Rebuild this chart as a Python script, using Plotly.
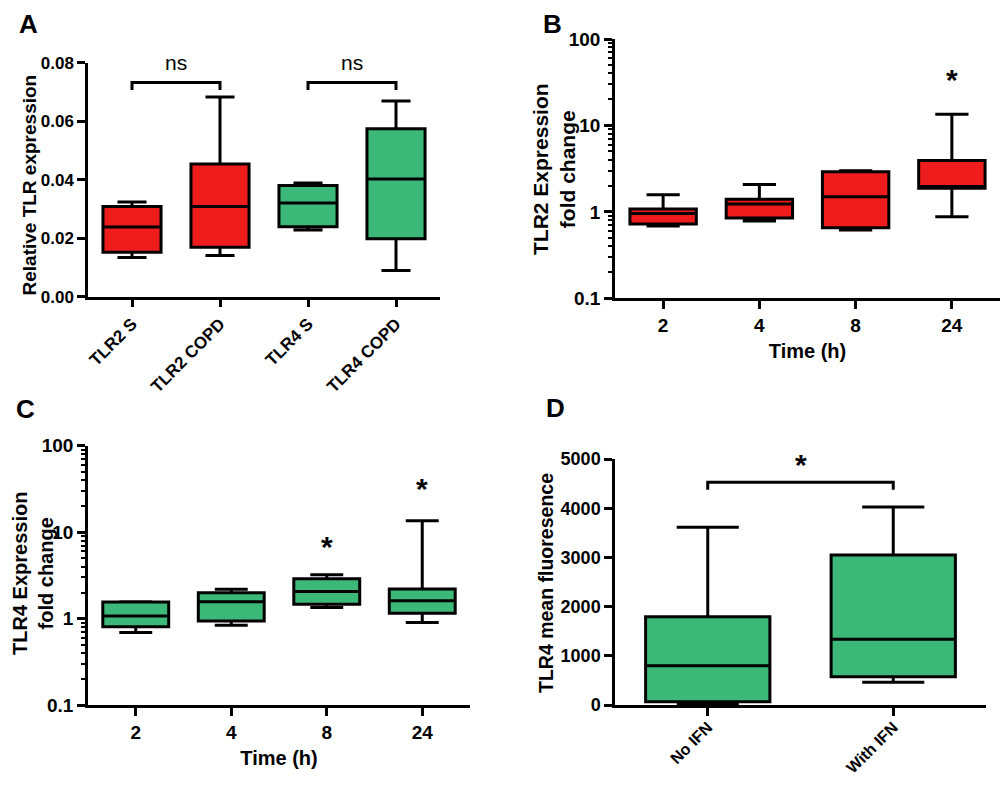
import math
import plotly.graph_objects as go

# ---------------- data ----------------
# Panel A
a_cats = ["TLR2 S", "TLR2 COPD", "TLR4 S", "TLR4 COPD"]
a_min = [0.0134, 0.0141, 0.0228, 0.0090]
a_q1 = [0.0152, 0.0169, 0.0239, 0.0198]
a_med = [0.0238, 0.0308, 0.0320, 0.0402]
a_q3 = [0.0308, 0.0454, 0.0380, 0.0574]
a_max = [0.0324, 0.0683, 0.0389, 0.0669]
a_colors = ["red", "red", "green", "green"]
a_brackets = [(0, 1, 0.0732, "ns"), (2, 3, 0.0732, "ns")]

# Panel B (TLR2 fold change)
time_cats = ["2", "4", "8", "24"]
b_min = [0.687, 0.785, 0.618, 0.88]
b_q1 = [0.724, 0.849, 0.657, 1.87]
b_med = [0.955, 1.23, 1.50, 1.97]
b_q3 = [1.08, 1.40, 2.92, 3.92]
b_max = [1.58, 2.08, 3.00, 13.5]
b_stars = [(3, 33.6)]

# Panel C (TLR4 fold change)
c_min = [0.69, 0.835, 1.34, 0.90]
c_q1 = [0.805, 0.94, 1.46, 1.15]
c_med = [1.07, 1.57, 2.05, 1.61]
c_q3 = [1.55, 1.99, 2.89, 2.20]
c_max = [1.56, 2.18, 3.22, 13.5]
c_stars = [(2, 6.8), (3, 31.8)]

# Panel D
d_cats = ["No IFN", "With IFN"]
d_min = [20, 461]
d_q1 = [68, 576]
d_med = [800, 1335]
d_q3 = [1795, 3049]
d_max = [3611, 4024]
d_brackets = [(0, 1, 4526, "*")]

log_major = [0.1, 1, 10, 100]
log_major_text = ["0.1", "1", "10", "100"]
log_minor = [m * d for d in (0.1, 1, 10) for m in range(2, 10)]

RED = "#EE1C1C"
GREEN = "#3CB878"
COL = {"red": RED, "green": GREEN}
FONT = "Liberation Sans, Arial, sans-serif"

# page has an 8px body margin: figure occupies the page from (8, 8)
OFF = 8
W, H = 1008 - 2 * OFF, 786 - 2 * OFF


def fx(px):
    return (px - OFF) / W


def fy(py):
    return 1 - (py - OFF) / H


fig = go.Figure()


def add_boxes(xs, mins, q1s, meds, q3s, maxs, colors, xa, ya, width):
    for i in range(len(xs)):
        fig.add_trace(go.Box(
            x=[xs[i]], q1=[q1s[i]], median=[meds[i]], q3=[q3s[i]],
            lowerfence=[mins[i]], upperfence=[maxs[i]],
            fillcolor=colors[i], line=dict(color="black", width=3),
            width=width, whiskerwidth=0.5, boxpoints=False,
            xaxis=xa, yaxis=ya, showlegend=False, hoverinfo="skip"))


add_boxes([0, 1, 2, 3], a_min, a_q1, a_med, a_q3, a_max,
          [COL[c] for c in a_colors], "x", "y", 0.66)
add_boxes([0, 1, 2, 3], b_min, b_q1, b_med, b_q3, b_max,
          [RED] * 4, "x2", "y2", 0.69)
add_boxes([0, 1, 2, 3], c_min, c_q1, c_med, c_q3, c_max,
          [GREEN] * 4, "x3", "y3", 0.69)
add_boxes([0, 1], d_min, d_q1, d_med, d_q3, d_max,
          [GREEN] * 2, "x4", "y4", 0.67)


def tf(size):
    return dict(family=FONT, size=size, color="black", weight="bold")


axis_common = dict(showline=True, linecolor="black", linewidth=2.5,
                   ticks="outside", ticklen=8, tickwidth=2.5, tickcolor="black",
                   showgrid=False, zeroline=False, automargin=False,
                   tickfont=tf(17))

minor_log = dict(ticks="outside", ticklen=4, tickwidth=1.5, tickcolor="black",
                 tickmode="array", tickvals=log_minor, showgrid=False)

fig.update_layout(
    width=W, height=H, margin=dict(l=0, r=0, t=0, b=0),
    paper_bgcolor="white", plot_bgcolor="white",
    xaxis=dict(axis_common, domain=[fx(88), fx(440)], range=[-0.5, 3.5],
               tickvals=[0, 1, 2, 3], ticktext=a_cats, tickangle=-45,
               anchor="y", tickfont=tf(17)),
    yaxis=dict(axis_common, domain=[fy(296.7), fy(62.7)], range=[0, 0.08],
               tickvals=[0, 0.02, 0.04, 0.06, 0.08],
               ticktext=["0.00", "0.02", "0.04", "0.06", "0.08"],
               anchor="x", tickfont=tf(17)),
    xaxis2=dict(axis_common, domain=[fx(615), fx(1000)], range=[-0.5, 3.5],
                tickvals=[0, 1, 2, 3], ticktext=time_cats, anchor="y2",
                tickfont=tf(19),
                title=dict(text="Time (h)", font=tf(20), standoff=10)),
    yaxis2=dict(axis_common, domain=[fy(298.3), fy(39)], type="log", range=[-1, 2],
                tickvals=log_major, ticktext=log_major_text,
                minor=minor_log, anchor="x2", tickfont=tf(19)),
    xaxis3=dict(axis_common, domain=[fx(88), fx(470)], range=[-0.5, 3.5],
                tickvals=[0, 1, 2, 3], ticktext=time_cats, anchor="y3",
                tickfont=tf(19),
                title=dict(text="Time (h)", font=tf(20), standoff=10)),
    yaxis3=dict(axis_common, domain=[fy(705), fy(445.7)], type="log", range=[-1, 2],
                tickvals=log_major, ticktext=log_major_text,
                minor=minor_log, anchor="x3", tickfont=tf(19)),
    xaxis4=dict(axis_common, domain=[fx(615), fx(986)], range=[-0.5, 1.5],
                tickvals=[0, 1], ticktext=d_cats, tickangle=-45, anchor="y4",
                tickfont=tf(16), ticklabelstandoff=-4),
    yaxis4=dict(axis_common, domain=[fy(705), fy(459)], range=[0, 5000],
                tickvals=[0, 1000, 2000, 3000, 4000, 5000], anchor="x4",
                tickfont=tf(18)),
)

# y-axis titles placed as rotated annotations
y_titles = [
    ("Relative TLR expression", 28.5, 185, 19),
    ("TLR2 Expression<br>fold change", 554, 169, 21),
    ("TLR4 Expression<br>fold change", 33, 574, 20),
    ("TLR4 mean fluoresence", 546, 583, 19.5),
]
for text, px, py, size in y_titles:
    fig.add_annotation(x=fx(px), y=fy(py), xref="paper", yref="paper", text=text,
                       textangle=-90, showarrow=False, xanchor="center",
                       yanchor="middle", font=tf(size))


def add_bracket(xa, ya, x0, x1, yv, leg, text, tsize, tweight, ty):
    fig.add_shape(type="path",
                  path=f"M {x0},{yv - leg} L {x0},{yv} L {x1},{yv} L {x1},{yv - leg}",
                  xref=xa, yref=ya, line=dict(color="black", width=3))
    fig.add_annotation(x=(x0 + x1) / 2, y=ty, xref=xa, yref=ya, text=text,
                       showarrow=False, yanchor="middle",
                       font=dict(family=FONT, size=tsize, color="black", weight=tweight))


for x0, x1, yv, t in a_brackets:
    add_bracket("x", "y", x0, x1, yv, 0.0025, t, 21, "normal", 0.0800)
for x0, x1, yv, t in d_brackets:
    add_bracket("x4", "y4", x0, x1, yv, 150, t, 30, "bold", 4880)

for xi, yv in b_stars:
    fig.add_annotation(x=xi, y=math.log10(yv), xref="x2", yref="y2", text="*",
                       showarrow=False, yanchor="middle", font=tf(30))
for xi, yv in c_stars:
    fig.add_annotation(x=xi, y=math.log10(yv), xref="x3", yref="y3", text="*",
                       showarrow=False, yanchor="middle", font=tf(30))

# panel letters
for letter, px, py in [("A", 28, 24), ("B", 552, 24), ("C", 25, 409), ("D", 555, 408)]:
    fig.add_annotation(x=fx(px), y=fy(py), xref="paper", yref="paper",
                       text=letter, showarrow=False, xanchor="center", yanchor="middle",
                       font=tf(26))

fig.write_html("out.html")
